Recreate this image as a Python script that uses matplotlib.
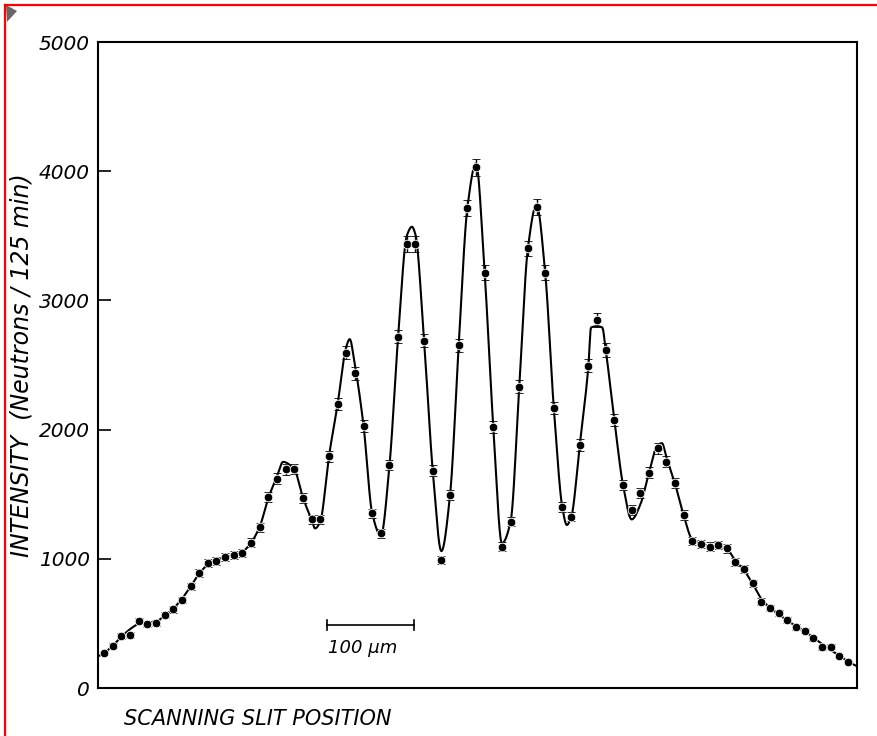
import numpy as np
import matplotlib
matplotlib.use("Agg")
import matplotlib.pyplot as plt
from matplotlib.lines import Line2D
from matplotlib.patches import Polygon

# ---- measured counts (neutrons / 125 min), one per 10 um slit step ----
slit_step_um = 10
slit_start_um = 7
counts = [268, 327, 402, 410, 519, 498, 501, 565, 609, 681,
          787, 892, 965, 983, 1011, 1029, 1047, 1125, 1244, 1476,
          1620, 1693, 1695, 1473, 1306, 1306, 1793, 2196, 2595, 2435,
          2030, 1352, 1197, 1726, 2719, 3437, 3437, 2688, 1682, 991,
          1494, 2651, 3713, 4030, 3214, 2022, 1094, 1287, 2332, 3403,
          3720, 3214, 2165, 1399, 1326, 1881, 2496, 2848, 2616, 2074,
          1571, 1378, 1512, 1666, 1855, 1752, 1584, 1339, 1138, 1115,
          1094, 1107, 1081, 978, 919, 810, 668, 617, 578, 526,
          474, 443, 384, 315, 320, 250, 204]
slit_pos = slit_start_um + slit_step_um * np.arange(len(counts))
count_err = np.sqrt(counts)          # Poisson statistical error

# ---- theoretical curve at key positions ----
curve_x = [0, 7, 17, 27, 37, 47, 57, 67, 77, 87, 97, 107, 117, 127, 137, 147,
           157, 167, 177, 187, 197, 207, 214, 227, 237, 247, 251, 257, 267,
           277, 287, 291, 297, 307, 317, 327, 337, 347, 357, 363, 367, 377,
           387, 397, 407, 417, 427, 437, 447, 457, 467, 477, 487, 497, 507,
           517, 527, 537, 542, 547, 557, 567, 570, 577, 583, 587, 597, 607,
           617, 627, 637, 647, 652, 657, 667, 677, 687, 697, 707, 717, 727,
           737, 747, 757, 767, 777, 787, 797, 807, 817, 827, 837, 847, 857,
           867, 877]
curve_y = [245, 268, 330, 395, 455, 495, 505, 515, 560, 615, 690, 785, 885,
           955, 990, 1010, 1030, 1055, 1125, 1250, 1470, 1640, 1750, 1690,
           1473, 1300, 1235, 1290, 1793, 2196, 2640, 2700, 2500, 2030, 1352,
           1180, 1726, 2719, 3500, 3570, 3510, 2688, 1682, 1060, 1494, 2651,
           3713, 4060, 3214, 2022, 1120, 1287, 2332, 3403, 3740, 3214, 2165,
           1390, 1262, 1320, 1881, 2496, 2790, 2800, 2790, 2616, 2074, 1571,
           1305, 1420, 1666, 1880, 1895, 1790, 1584, 1339, 1150, 1115, 1100,
           1095, 1075, 985, 910, 805, 690, 620, 570, 520, 480, 440, 390, 340,
           295, 250, 205, 170]

yticks = [0, 1000, 2000, 3000, 4000, 5000]
ylabel = "INTENSITY  (Neutrons / 125 min)"
xlabel = "SCANNING SLIT POSITION"
scalebar_label = "100 \u00b5m"


def pchip(x, y, xs):
    x = np.asarray(x, float); y = np.asarray(y, float)
    h = np.diff(x); d = np.diff(y) / h
    m = np.zeros_like(y)
    for k in range(1, len(x) - 1):
        if d[k - 1] * d[k] > 0:
            w1 = 2 * h[k] + h[k - 1]
            w2 = h[k] + 2 * h[k - 1]
            m[k] = (w1 + w2) / (w1 / d[k - 1] + w2 / d[k])
    m[0] = d[0]; m[-1] = d[-1]
    idx = np.clip(np.searchsorted(x, xs) - 1, 0, len(x) - 2)
    t = (xs - x[idx]) / h[idx]
    h00 = 2 * t**3 - 3 * t**2 + 1
    h10 = t**3 - 2 * t**2 + t
    h01 = -2 * t**3 + 3 * t**2
    h11 = t**3 - t**2
    return (h00 * y[idx] + h10 * h[idx] * m[idx] + h01 * y[idx + 1]
            + h11 * h[idx] * m[idx + 1])


W, H = 877, 736
fig = plt.figure(figsize=(W / 100, H / 100), dpi=100)
ax = fig.add_axes([98 / W, 1 - 688 / H, (857 - 98) / W, (688 - 42) / H])

xs = np.linspace(curve_x[0], curve_x[-1], 3000)
ax.plot(xs, pchip(curve_x, curve_y, xs), color="black", lw=1.5, zorder=2)

ax.errorbar(slit_pos, counts, yerr=count_err, fmt="o", color="black",
            ms=6.2, mec="white", mew=0.6, ecolor="black", elinewidth=1.0,
            capsize=3.2, capthick=1.0, zorder=3)

ax.set_xlim(0, 877.5)
ax.set_ylim(0, 5000)
ax.set_xticks([])
ax.set_yticks(yticks)
ax.set_yticklabels([str(v) for v in yticks], fontsize=14.5, style="italic")
ax.tick_params(axis="y", direction="in", length=9, width=1.2, pad=6)
for sp in ax.spines.values():
    sp.set_linewidth(1.5)
    sp.set_color("black")

# scale bar
sb_x0 = 265
ax.plot([sb_x0, sb_x0 + 100], [488, 488], color="black", lw=1.2)
ax.plot([sb_x0, sb_x0], [450, 525], color="black", lw=1.2)
ax.plot([sb_x0 + 100, sb_x0 + 100], [450, 525], color="black", lw=1.2)
ax.text(sb_x0 + 1, 310, scalebar_label, fontsize=13, style="italic",
        ha="left", va="center")

fig.text(22 / W, 1 - 365 / H, ylabel, rotation=90, ha="center", va="center",
         fontsize=17, style="italic")
fig.text(124 / W, 1 - 719 / H, xlabel, ha="left", va="center",
         fontsize=15, style="italic")

# red frame of the screenshot
fig.add_artist(Line2D([4.5 / W, 4.5 / W], [0, 1 - 4.5 / H], color="red",
                      lw=1.6, transform=fig.transFigure))
fig.add_artist(Line2D([4.5 / W, 1], [1 - 4.5 / H, 1 - 4.5 / H], color="red",
                      lw=1.6, transform=fig.transFigure))
fig.add_artist(Polygon([(6 / W, 1 - 5 / H), (17 / W, 1 - 11 / H),
                        (7 / W, 1 - 22 / H)], closed=True,
                       facecolor="#666666", edgecolor="none",
                       transform=fig.transFigure))

fig.savefig("out.png", dpi=100)
